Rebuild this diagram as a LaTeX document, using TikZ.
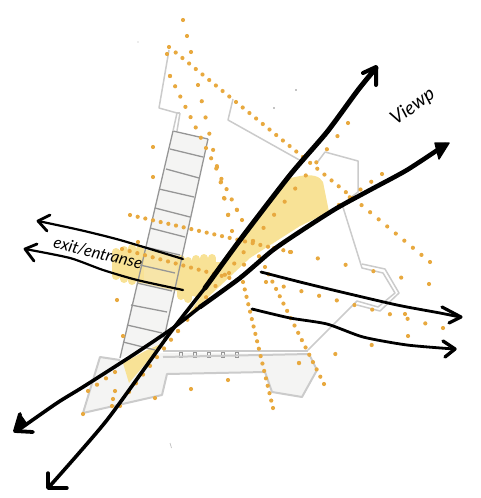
\documentclass[tikz,border=0pt]{standalone}
\usepackage{fontspec}
\setmainfont{Lato}
\definecolor{dotc}{HTML}{E8A93F}
\definecolor{yel}{HTML}{F8E296}
\definecolor{wallc}{HTML}{CBCBCB}
\definecolor{stairc}{HTML}{969696}
\definecolor{floorc}{HTML}{F4F4F3}
\newcommand{\dotrow}[5]{%
  \foreach \k in {0,...,#5}{%
    \pgfmathsetmacro{\px}{#1+(#3-(#1))*\k/#5}%
    \pgfmathsetmacro{\py}{#2+(#4-(#2))*\k/#5}%
    \fill[dotc] (\px,\py) circle[radius=2.1];%
  }}
\tikzset{
  x=1pt,y=-1pt,
  wall/.style={draw=wallc,line width=1.5pt,line join=round},
  thickwall/.style={draw=wallc,line width=2pt,line join=round},
  rung/.style={draw=stairc,line width=1.3pt},
  ink/.style={draw=black,line width=#1,line cap=round,line join=round},
  ink/.default=2pt,
  brush/.style={draw=yel,line width=8pt,line cap=round},
}
\begin{document}
\begin{tikzpicture}
\useasboundingbox (0,0) rectangle (481,498);
% floors
\fill[floorc] (100,357) -- (120,360) -- (163,353) -- (309,354) -- (317,370) -- (302,397) -- (272,392) -- (265,372) -- (167,374) -- (162,395) -- (83,413) -- cycle;
\fill[floorc] (173,131) -- (208,139) -- (163,343) -- (120,358) -- cycle;
% yellow
\fill[yel] (183,322) -- (240,240) -- (290,178) -- (300,176) .. controls (312,174) and (320,176) .. (323,182) -- (329,212) -- (300,226) -- (250,258) -- (205,300) -- cycle;
\fill[yel] (123,363) -- (129,383) -- (163,343) -- (147,350) -- cycle;
\fill[yel] (117,250) rectangle (142,278);
\foreach \a/\b/\c in {116/252/276,124/250/279,132/248/281,140/249/280,181/259/296,188/261/299,196/259/293,204/258/284,212/258/274}{
  \draw[brush] (\a,\b) -- (\a,\c);
}
\fill[yel,opacity=.8] (142,249) -- (180,256) -- (180,292) -- (142,283) -- cycle;
\fill[yel] (184,262) -- (225,262) -- (200,296) -- (184,296) -- cycle;
% stairs
\draw[rung] (173,131) -- (120,358);
\draw[rung] (208,139) -- (163,343);
\draw[rung] (173,131) -- (208,139);
\foreach \a/\b/\c/\d in {170/149/203/157,166/169/199/178,159/189/194/197,155/208/190/217,150/228/185/237,145/247/180/255,140/265/175/273,137/283/172/291,131/305/167/312,127/325/162/333,123/342/155/350}{
  \draw[rung] (\a,\b) -- (\c,\d);
}
% walls
\draw[wall] (169,50) -- (159,108) -- (177,113) -- (173,131);
\draw[wall] (180,113) -- (177,131);
\draw[wall] (177,113) -- (180,113);
\draw[wall] (233,99) -- (228,120) -- (303,162);
\draw[wall] (316,164) -- (325,152) -- (358,161) -- (358,192) -- (342,204) -- (362,268) -- (383,273) -- (395,293) -- (378,307) -- (357,301) -- (308,350);
\draw[wall] (362,264) -- (385,269) -- (399,293) -- (380,311) -- (357,305);
\draw[wall] (163,351) -- (308,351);
\foreach \a in {181,195,209,223,237}{
  \draw[rung,line width=1pt] (\a-1.5,352) rectangle (\a+1.5,357);
}
\draw[thickwall] (120,360) -- (100,357) -- (83,413) -- (162,395) -- (167,374) -- (265,372) -- (272,392) -- (302,397) -- (317,370) -- (309,354) -- (163,357);
% specks
\fill[black] (296,90) circle[radius=.6];
\fill[black] (274,108) circle[radius=.6];
\fill[gray!60] (138,42) circle[radius=.6];
\draw[gray!50,line width=.7pt] (170,443) -- (171.5,448);
% dotted lines
\dotrow{169}{47}{303}{157}{20}
\dotrow{303}{157}{353}{198}{7}
\dotrow{353}{198}{430}{262}{9}
\dotrow{130}{215}{291}{252}{21}
\dotrow{122}{249}{237}{280}{15}
\dotrow{183}{20}{191}{52}{2}
\dotrow{198}{85}{232}{231}{9}
\dotrow{243}{282}{273}{408}{17}
\dotrow{167}{54}{170}{76}{1}
\dotrow{170}{76}{242}{220}{14}
\dotrow{265}{267}{324}{384}{16}
\dotrow{348}{123}{253}{241}{9}
\dotrow{253}{241}{178}{331}{8}
\dotrow{178}{331}{129}{392}{7}
\dotrow{382}{174}{339}{205}{4}
\dotrow{339}{205}{318}{220}{1}
\dotrow{274}{248}{229}{273}{3}
\dotrow{115}{372}{88}{391}{3}
\dotrow{266}{282}{443}{328}{10}
\dotrow{290}{252}{429}{284}{5}
\dotrow{299}{363}{408}{336}{3}
\foreach \a/\b in {153/147,153/177,117/300,123/336,138/242,115/391,113/399,112/406,120/406,155/398,191/389,228/380,83/414,217/167,221/182,228/215,237/210,224/198,299/363,405/314}{
  \fill[dotc] (\a,\b) circle[radius=2.1];
}
% view arrows
\draw[ink=5pt] plot[smooth,tension=.4] coordinates {(376,68) (358,90) (327,132) (290,175) (240,240) (205,288)};
\draw[ink=3.6pt] plot[smooth,tension=.4] coordinates {(205,288) (170,333) (107,420) (49,487)};
\draw[ink=4pt] (363,73) -- (376,67) -- (376,85);
\draw[ink=3.4pt] (48,473) -- (48,488) -- (67,488);
\draw[ink=4.6pt] plot[smooth,tension=.4] coordinates {(445,145) (407,170) (370,190) (337,208) (307,227) (273,250) (240,278) (200,307)};
\draw[ink=3.6pt] plot[smooth,tension=.4] coordinates {(200,307) (173,328) (133,355) (83,387) (57,403) (17,431)};
\fill[black,draw=black,line width=1.4pt,line join=round] (435,143) -- (449,143) -- (439,159) -- cycle;
\draw[ink=3.8pt] (20,414) -- (15,431) -- (33,432);
\draw[ink=1pt,fill=black] (20,414) -- (15,431) -- (27,424) -- cycle;
% exit arrows
\draw[ink=2.2pt] plot[smooth,tension=.4] coordinates {(183,259) (120,240) (80,230) (38,221)};
\draw[ink=2.8pt] (50,215) -- (38,221) -- (47,231);
\draw[ink=2.2pt] plot[smooth,tension=.4] coordinates {(183,290) (137,280) (103,270) (70,258) (25,249)};
\draw[ink=2.8pt] (37,244) -- (25,249) -- (34,261);
% right arrows
\draw[ink=2.8pt] plot[smooth,tension=.4] coordinates {(261,272) (300,282) (337,291) (397,305) (440,313) (460,317)};
\draw[ink=3.2pt] (442,307) -- (461,317) -- (449,323);
\draw[ink=2.8pt] plot[smooth,tension=.4] coordinates {(252,309) (290,318) (327,324) (363,337) (407,345) (454,349)};
\draw[ink=3.4pt] (443,341) -- (455,349) -- (445,357);
% labels
\node[rotate=35,font=\itshape\fontsize{19}{19}\selectfont,inner sep=0pt] (viewlabel) at (413,107) {Viewp};
\node[rotate=-14,font=\itshape\fontsize{16.5}{16.5}\selectfont,inner sep=0pt] (exitlabel) at (98,253) {exit/entranse};
\end{tikzpicture}
\end{document}
